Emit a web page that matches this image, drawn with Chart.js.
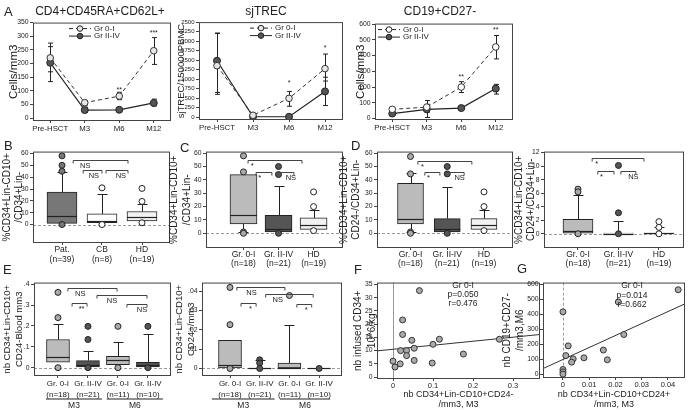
<!DOCTYPE html>
<html>
<head>
<meta charset="utf-8">
<script src="https://cdn.jsdelivr.net/npm/chart.js"></script>
<style>
  body { margin: 0; width: 689px; height: 410px; position: relative; overflow: hidden; background: #fff;
         font-family: "Liberation Sans", Arial, sans-serif; color: #222; }
  canvas { position: absolute; z-index: 1; }
  .t { position: absolute; white-space: nowrap; z-index: 5; color: #222; }
  .c { text-align: center; }
</style>
</head>
<body>
<div class="t" style="left:4px;top:4px;font-size:13px">A</div>
<div class="t c" style="left:30px;top:4px;width:140px;font-size:12px">CD4+CD45RA+CD62L+</div>
<div class="t c" style="left:226px;top:4px;width:80px;font-size:12px">sjTREC</div>
<div class="t c" style="left:390px;top:4px;width:100px;font-size:12px">CD19+CD27-</div>
<div class="t" style="left:4px;top:138px;font-size:13px">B</div>
<div class="t" style="left:180px;top:140px;font-size:13px">C</div>
<div class="t" style="left:351px;top:138px;font-size:13px">D</div>
<div class="t" style="left:3px;top:262px;font-size:13px">E</div>
<div class="t" style="left:354px;top:262px;font-size:13px">F</div>
<div class="t" style="left:517px;top:261px;font-size:13px">G</div>
<div class="t c" style="left:433px;top:281px;width:60px;font-size:8.5px;line-height:9px">Gr 0-I<br>p=0.050<br>r=0.476</div>
<div class="t c" style="left:602px;top:281px;width:60px;font-size:8.5px;line-height:9.5px">Gr 0-I<br>p=0.014<br>r=0.662</div>
<script>
// ---------- A: time course ----------
const timeLabels = ['Pre-HSCT', 'M3', 'M6', 'M12'];

const cd4Ticks = [0, 50, 100, 150, 200, 250, 300, 350];
const cd4Gr0 = [221, 57, 81, 247];
const cd4Gr0Lo = [170, 48, 68, 197];
const cd4Gr0Hi = [275, 65, 95, 295];
const cd4Gr2 = [203, 30, 31, 56];
const cd4Gr2Lo = [134, 22, 27, 45];
const cd4Gr2Hi = [262, 40, 37, 70];
const cd4Stars = ['', '', '**', '***'];
const cd4StarY = [0, 0, 104, 312];

const trecTicks = [0, 250, 500, 750, 1000, 1250, 1500, 1750, 2000, 2250, 2500];
const trecGr0 = [1354, 50, 495, 1276];
const trecGr0Lo = [600, 50, 286, 950];
const trecGr0Hi = [2213, 50, 677, 1660];
const trecGr2 = [1484, 10, 10, 677];
const trecGr2Lo = [650, 10, 10, 305];
const trecGr2Hi = [2200, 10, 10, 1050];
const trecStars = ['', '', '*', '*'];
const trecStarY = [0, 0, 900, 1830];

const cd19Ticks = [0, 100, 200, 300, 400, 500, 600];
const cd19Gr0 = [58, 72, 200, 455];
const cd19Gr0Lo = [45, 40, 165, 379];
const cd19Gr0Hi = [70, 114, 234, 528];
const cd19Gr2 = [31, 58, 66, 190];
const cd19Gr2Lo = [25, 6, 55, 155];
const cd19Gr2Hi = [38, 90, 78, 217];
const cd19Stars = ['', '', '**', '**'];
const cd19StarY = [0, 0, 262, 562];

// ---------- B, C, D: boxplots ----------
const pctTicks = [0, 10, 20, 30, 40, 50, 60];
const bCats = [['Pat.', '(n=39)'], ['CB', '(n=8)'], ['HD', '(n=19)']];
const bLo = [1, 1.5, 3];
const bQ1 = [1, 1.5, 3];
const bMed = [7.5, 3, 6];
const bQ3 = [27.5, 9, 11];
const bHi = [44, 25.5, 17];
const bOut = [[58, 50, 45, 0], [31, 0], [30.5, 19.5, 1.5]];
const bBrackets = [[1.28, 2.65, 54.5, 'NS', 0.13], [1.53, 2.0, 46, 'NS', 0.3], [2.1, 2.65, 46, 'NS', 0.45]];

const grpCats = [['Gr. 0-I', '(n=18)'], ['Gr. II-IV', '(n=21)'], ['HD', '(n=19)']];
const cLo = [1, 1, 3];
const cQ1 = [7, 1, 3];
const cMed = [14, 3, 6];
const cQ3 = [44, 13.5, 11.5];
const cHi = [44, 35.5, 17.5];
const cOut = [[58, 46, 1, 0], [50, 44, 0], [31, 20, 2]];
const cBrackets = [[1.13, 2.67, 55, '*', 0.04], [1.36, 1.81, 46, '*', 0.1], [1.93, 2.44, 46, 'NS', 0.55]];

const dLo = [1, 1, 3];
const dQ1 = [7, 1, 3];
const dMed = [11, 3, 6];
const dQ3 = [37.5, 11, 11];
const dHi = [45, 34.5, 17.5];
const dOut = [[57.5, 44.5, 1, 0], [50, 44.5, 0], [31, 20, 2]];
const dBrackets = [[1.2, 2.67, 54.4, '*', 0.05], [1.39, 1.8, 46, '*', 0.1], [1.94, 2.46, 46, 'NS', 0.5]];

const d2Ticks = [0, 2, 4, 6, 8, 10, 12];
const d2Lo = [0, 0, 0];
const d2Q1 = [0, 0, 0];
const d2Med = [0.45, 0, 0.05];
const d2Q3 = [2.15, 0.1, 0.12];
const d2Hi = [5.75, 1.85, 0.95];
const d2Out = [[6.6, 6.2, 0], [10.1, 3.1, 0], [1.8, 0.95, 0]];
const d2Brackets = [[1.35, 2.63, 11.2, '*', 0.05], [1.49, 1.89, 9.35, '*', 0.1], [2.06, 2.43, 9.35, 'NS', 0.5]];

// ---------- E: blood counts M3 / M6 ----------
const eCats = [['Gr. 0-I', '(n=18)'], ['Gr. II-IV', '(n=21)'], ['Gr. 0-I', '(n=11)'], ['Gr. II-IV', '(n=10)']];
const eTicks = [0, 0.1, 0.2, 0.3, 0.4];
const eTickLabels = ['0', '.1', '.2', '.3', '.4'];
const eLo = [0.026, 0.003, 0.014, 0.003];
const eQ1 = [0.026, 0.003, 0.014, 0.003];
const eMed = [0.053, 0.014, 0.037, 0.014];
const eQ3 = [0.135, 0.034, 0.054, 0.026];
const eHi = [0.21, 0.081, 0.124, 0.162];
const eOut = [[0.361, 0.24, 0], [0.198, 0.135, 0], [0.198, 0], [0.198, 0]];
const eBrackets = [[1.33, 2.97, 0.38, 'NS', 0.15], [1.47, 1.97, 0.31, '**', 0.5], [2.3, 3.97, 0.349, 'NS', 0.2], [3.3, 3.97, 0.307, 'NS', 0.5]];
const eGroups = [[0.6, 2.47, 'M3'], [2.63, 4.5, 'M6']];

const e2Ticks = [0, 0.01, 0.02, 0.03, 0.04];
const e2TickLabels = ['0', '.01', '.02', '.03', '.04'];
const e2Lo = [0, 0, 0, 0];
const e2Q1 = [0, 0, 0, 0];
const e2Med = [0.002, 0, 0, 0];
const e2Q3 = [0.0146, 0, 0.0028, 0];
const e2Hi = [0.0146, 0.0045, 0.0227, 0];
const e2Out = [[0.042, 0.0227, 0], [0.0045, 0.0028, 0], [0.0378], [0]];
const e2Brackets = [[1.23, 2.85, 0.042, 'NS', 0.2], [1.37, 1.88, 0.034, '*', 0.5], [2.2, 3.8, 0.0387, 'NS', 0.15], [3.25, 3.75, 0.0336, '*', 0.5]];
const e2Groups = [[0.39, 2.5, 'M3'], [2.68, 4.37, 'M6']];

// ---------- F, G: correlations ----------
const fTicksX = [0, 0.1, 0.2, 0.3];
const fTickLabelsX = ['0', '0.1', '0.2', '0.3'];
const fTicksY = [0, 5, 10, 15, 20, 25, 30, 35];
const fX = [0.0, 0.005, 0.024, 0.024, 0.019, 0.034, 0.034, 0.018, 0.047, 0.053, 0.053, 0.066, 0.10, 0.098, 0.116, 0.176, 0.266];
const fY = [6.0, 3.8, 21.6, 16.1, 10, 10, 8.1, 5, 13.9, 10.9, 6.3, 32.7, 12.4, 5.3, 14.3, 8.7, 14.3];
const fFitX = [-0.04, 0.3675];
const fFitY = [9.9, 16.1];

const gTicksX = [0, 0.01, 0.02, 0.03, 0.04];
const gTickLabelsX = ['0', '0.01', '0.02', '0.03', '0.04'];
const gTicksY = [0, 100, 200, 300, 400, 500, 600];
const gX = [0.0439, 0.0211, 0, 0.0232, 0.002, 0.0154, 0.0011, 0.008, 0.0039, 0.0033, 0.0169, 0, 0, 0];
const gY = [565, 483, 417, 265, 189, 161, 124, 109, 102, 80, 96, 31, 15, 0];
const gFitX = [-0.0076, 0.0465];
const gFitY = [37, 471];

// ---------- helpers ----------
const FAMILY = '"Liberation Sans", Arial, sans-serif';
Chart.defaults.font.family = FAMILY;
Chart.defaults.color = '#222';

function mkCanvas(frame, left, bottom) {
    const [l, t, r, b] = frame;
    const cv = document.createElement('canvas');
    const top = t - 3, w = r - left + 3, h = bottom - top;
    cv.width = w;
    cv.height = h;
    Object.assign(cv.style, { left: left + 'px', top: top + 'px', width: w + 'px', height: h + 'px' });
    document.body.appendChild(cv);
    return { cv, yW: l - left, xH: bottom - b };
}

const framePlugin = {
    id: 'frame',
    afterDraw(chart) {
        const a = chart.chartArea, c = chart.ctx;
        c.save();
        c.strokeStyle = '#444';
        c.lineWidth = 1;
        c.strokeRect(a.left + 0.5, a.top + 0.5, a.right - a.left - 1, a.bottom - a.top - 1);
        c.restore();
    }
};

function yAxis(o, W) {
    return {
        type: 'linear', min: o.ymin, max: o.ymax,
        afterFit: s => { s.width = W; },
        afterBuildTicks: s => { s.ticks = o.yticks.map(v => ({ value: v })); },
        border: { display: false },
        grid: { drawOnChartArea: false, tickLength: 3, color: '#444' },
        ticks: { font: { size: o.tickSize || 6.8 }, padding: 1.5, autoSkip: false,
                 callback: (v, i) => o.ylabels ? o.ylabels[i] : String(v) },
        title: { display: true, text: o.ytitle, color: '#222',
                 font: { size: o.titleSize || 10, lineHeight: o.titleLH || 1.2 }, padding: 0 }
    };
}

function baseOptions() {
    return {
        responsive: false, animation: false, events: [],
        layout: { padding: { top: 3, right: 3, left: 0, bottom: 0 }, autoPadding: false },
        plugins: { legend: { display: false }, tooltip: { enabled: false } }
    };
}

// ---------- time course panel ----------
function linePanel(o) {
    const { cv, yW, xH } = mkCanvas(o.frame, o.left, o.bottom);
    const groups = [
        { lo: o.g0Lo, hi: o.g0Hi },
        { lo: o.g2Lo, hi: o.g2Hi }
    ];
    const extras = {
        id: 'extras',
        beforeDatasetsDraw(chart) {
            const c = chart.ctx, X = chart.scales.x, Y = chart.scales.y;
            c.save();
            c.strokeStyle = '#222';
            c.lineWidth = 1;
            groups.forEach(g => {
                g.lo.forEach((lo, i) => {
                    const hi = g.hi[i];
                    if (hi - lo <= 0) return;
                    const x = Math.round(X.getPixelForValue(i)) + 0.5;
                    const y1 = Y.getPixelForValue(lo), y2 = Y.getPixelForValue(hi);
                    c.beginPath();
                    c.moveTo(x, y1); c.lineTo(x, y2);
                    c.moveTo(x - 2.5, y1); c.lineTo(x + 2.5, y1);
                    c.moveTo(x - 2.5, y2); c.lineTo(x + 2.5, y2);
                    c.stroke();
                });
            });
            c.restore();
        },
        afterDatasetsDraw(chart) {
            const c = chart.ctx, X = chart.scales.x, Y = chart.scales.y, a = chart.chartArea;
            c.save();
            c.font = '7px ' + FAMILY;
            c.fillStyle = '#222';
            c.textAlign = 'center';
            c.textBaseline = 'middle';
            o.stars.forEach((s, i) => {
                if (s) c.fillText(s, X.getPixelForValue(i), Y.getPixelForValue(o.starY[i]));
            });
            // legend
            chart.data.datasets.forEach((ds, k) => {
                const x0 = a.left + o.legendX, y = a.top + 6 + k * 7.5;
                c.strokeStyle = '#222';
                c.lineWidth = 1;
                c.setLineDash(ds.borderDash || []);
                c.beginPath(); c.moveTo(x0, y); c.lineTo(x0 + 22, y); c.stroke();
                c.setLineDash([]);
                c.beginPath(); c.arc(x0 + 11, y, 2.8, 0, Math.PI * 2);
                c.fillStyle = ds.pointBackgroundColor; c.fill(); c.stroke();
                c.fillStyle = '#222';
                c.textAlign = 'left';
                c.font = '8px ' + FAMILY;
                c.fillText(ds.label, x0 + 25, y);
            });
            c.restore();
        }
    };
    new Chart(cv, {
        type: 'line',
        data: {
            labels: timeLabels,
            datasets: [
                { label: 'Gr 0-I', data: o.g0, borderColor: '#333', borderWidth: 1, borderDash: [4, 3],
                  pointRadius: 3.3, pointBackgroundColor: o.openFill, pointBorderColor: '#333', pointBorderWidth: 1 },
                { label: 'Gr II-IV', data: o.g2, borderColor: '#222', borderWidth: 1.2,
                  pointRadius: 3.5, pointBackgroundColor: '#555', pointBorderColor: '#222', pointBorderWidth: 1 }
            ]
        },
        options: Object.assign(baseOptions(), {
            scales: {
                x: {
                    type: 'category', offset: true,
                    afterFit: s => { s.height = xH; },
                    border: { display: false },
                    grid: { drawOnChartArea: false, offset: false, tickLength: 2, color: '#444' },
                    ticks: { font: { size: 7.8 }, padding: 1, maxRotation: 0, autoSkip: false }
                },
                y: yAxis(o, yW)
            }
        }),
        plugins: [framePlugin, extras]
    });
}

// ---------- box plot panel ----------
function boxPanel(o) {
    const { cv, yW, xH } = mkCanvas(o.frame, o.left, o.bottom);
    const xs = o.cats.map((_, i) => i + 1);
    const pts = [], fills = [];
    o.out.forEach((arr, i) => arr.forEach(v => { pts.push({ x: i + 1, y: v }); fills.push(o.dotColor[i]); }));
    const half = o.boxW / 2, cap = 5;
    const boxPlugin = {
        id: 'box',
        beforeDatasetsDraw(chart) {
            const c = chart.ctx, X = chart.scales.x, Y = chart.scales.y, a = chart.chartArea;
            c.save();
            c.strokeStyle = '#999';
            c.lineWidth = 1;
            c.setLineDash([3, 2]);
            const y0 = Math.round(Y.getPixelForValue(0)) + 0.5;
            c.beginPath(); c.moveTo(a.left, y0); c.lineTo(a.right, y0); c.stroke();
            c.setLineDash([]);
            c.strokeStyle = '#222';
            xs.forEach((xv, i) => {
                const x = Math.round(X.getPixelForValue(xv)) + 0.5;
                const whisk = (from, to) => {
                    const y1 = Y.getPixelForValue(from), y2 = Math.round(Y.getPixelForValue(to)) + 0.5;
                    c.beginPath();
                    c.moveTo(x, y1); c.lineTo(x, y2);
                    c.moveTo(x - cap, y2); c.lineTo(x + cap, y2);
                    c.stroke();
                };
                if (o.hi[i] > o.q3[i]) whisk(o.q3[i], o.hi[i]);
                if (o.lo[i] < o.q1[i]) whisk(o.q1[i], o.lo[i]);
            });
            c.restore();
        },
        afterDatasetDraw(chart, args) {
            if (args.index !== 0) return;
            const c = chart.ctx, X = chart.scales.x, Y = chart.scales.y;
            c.save();
            c.strokeStyle = '#222';
            c.lineWidth = 1.2;
            xs.forEach((xv, i) => {
                const x = X.getPixelForValue(xv);
                const y = Math.round(Y.getPixelForValue(o.med[i])) + 0.5;
                c.beginPath(); c.moveTo(x - half, y); c.lineTo(x + half, y); c.stroke();
            });
            c.restore();
        },
        afterDatasetsDraw(chart) {
            const c = chart.ctx, X = chart.scales.x, Y = chart.scales.y;
            c.save();
            c.strokeStyle = '#444';
            c.fillStyle = '#222';
            c.lineWidth = 1;
            c.font = '7.5px ' + FAMILY;
            c.textAlign = 'center';
            c.textBaseline = 'top';
            o.brackets.forEach(([x1, x2, yv, label, frac]) => {
                const p1 = X.getPixelForValue(x1), p2 = X.getPixelForValue(x2);
                const y = Math.round(Y.getPixelForValue(yv)) + 0.5;
                c.beginPath();
                c.moveTo(p1, y + 3); c.lineTo(p1, y); c.lineTo(p2, y); c.lineTo(p2, y + 3);
                c.stroke();
                c.fillText(label, p1 + (p2 - p1) * frac + (label === 'NS' ? 5 : 2), y + 1.5);
            });
            c.restore();
        },
        afterDraw(chart) {
            if (!o.groups) return;
            const c = chart.ctx, X = chart.scales.x, a = chart.chartArea;
            c.save();
            c.strokeStyle = '#222';
            c.fillStyle = '#222';
            c.lineWidth = 1.2;
            c.font = '8.5px ' + FAMILY;
            c.textAlign = 'center';
            c.textBaseline = 'middle';
            o.groups.forEach(([x1, x2, label]) => {
                const p1 = X.getPixelForValue(x1), p2 = X.getPixelForValue(x2);
                const y = a.bottom + 23;
                c.beginPath(); c.moveTo(p1, y); c.lineTo(p2, y); c.stroke();
                c.fillText(label, (p1 + p2) / 2, y + 7);
            });
            c.restore();
        }
    };
    new Chart(cv, {
        type: 'bar',
        data: {
            datasets: [
                { type: 'bar', data: xs.map((x, i) => ({ x, y: [o.q1[i], o.q3[i]] })),
                  backgroundColor: o.boxColor, borderColor: '#222', borderWidth: 1, borderSkipped: false,
                  barThickness: o.boxW, order: 2 },
                { type: 'scatter', data: pts, pointRadius: 3, pointBackgroundColor: fills,
                  pointBorderColor: '#222', pointBorderWidth: 1, order: 0 }
            ]
        },
        options: Object.assign(baseOptions(), {
            scales: {
                x: {
                    type: 'linear', min: o.xmin, max: o.xmax, offset: false,
                    afterFit: s => { s.height = xH; },
                    afterBuildTicks: s => { s.ticks = xs.map(v => ({ value: v })); },
                    border: { display: false },
                    grid: { drawOnChartArea: false, offset: false, tickLength: 2, color: '#444' },
                    ticks: { font: { size: o.xSize || 8.5, lineHeight: o.xLH || 1.1 }, padding: 0, maxRotation: 0,
                             autoSkip: false, callback: (v, i) => o.cats[i] }
                },
                y: yAxis(o, yW)
            }
        }),
        plugins: [framePlugin, boxPlugin]
    });
}

// ---------- scatter / correlation panel ----------
function scatterPanel(o) {
    const { cv, yW, xH } = mkCanvas(o.frame, o.left, o.bottom);
    const zeroLine = {
        id: 'zero',
        beforeDatasetsDraw(chart) {
            const c = chart.ctx, X = chart.scales.x, a = chart.chartArea;
            const x = Math.round(X.getPixelForValue(0)) + 0.5;
            c.save();
            c.strokeStyle = '#999';
            c.lineWidth = 1;
            if (o.dashedZero) c.setLineDash([3, 2]);
            c.beginPath(); c.moveTo(x, a.top); c.lineTo(x, a.bottom); c.stroke();
            c.restore();
        }
    };
    new Chart(cv, {
        type: 'scatter',
        data: {
            datasets: [
                { type: 'scatter', data: o.xv.map((x, i) => ({ x, y: o.yv[i] })), pointRadius: 3,
                  pointBackgroundColor: '#aaa', pointBorderColor: '#333', pointBorderWidth: 1, order: 0 },
                { type: 'line', data: o.fitX.map((x, i) => ({ x, y: o.fitY[i] })), borderColor: '#333',
                  borderWidth: 1, pointRadius: 0, order: 1 }
            ]
        },
        options: Object.assign(baseOptions(), {
            scales: {
                x: {
                    type: 'linear', min: o.xmin, max: o.xmax,
                    afterFit: s => { s.height = xH; },
                    afterBuildTicks: s => { s.ticks = o.xticks.map(v => ({ value: v })); },
                    border: { display: false },
                    grid: { drawOnChartArea: false, tickLength: 2, color: '#444' },
                    ticks: { font: { size: 7.5 }, padding: 0, maxRotation: 0, autoSkip: false,
                             callback: (v, i) => o.xlabels[i] },
                    title: { display: true, text: o.xtitle, color: '#222',
                             font: { size: 9, lineHeight: 1.15 }, padding: 0 }
                },
                y: yAxis(o, yW)
            }
        }),
        plugins: [framePlugin, zeroLine]
    });
}

// ---------- build ----------
linePanel({ frame: [33, 20, 171, 121], left: 7, bottom: 134, ymin: -10, ymax: 350, yticks: cd4Ticks,
            ytitle: 'Cells/mm3', titleSize: 11.5, legendX: 36, openFill: '#e6e6e6',
            g0: cd4Gr0, g0Lo: cd4Gr0Lo, g0Hi: cd4Gr0Hi, g2: cd4Gr2, g2Lo: cd4Gr2Lo, g2Hi: cd4Gr2Hi,
            stars: cd4Stars, starY: cd4StarY });
linePanel({ frame: [199, 20, 343, 120], left: 176, bottom: 134, ymin: -75, ymax: 2500, yticks: trecTicks,
            ytitle: 'sjTREC/150000PBMC', titleSize: 9.5, tickSize: 6, legendX: 51, openFill: '#e6e6e6',
            g0: trecGr0, g0Lo: trecGr0Lo, g0Hi: trecGr0Hi, g2: trecGr2, g2Lo: trecGr2Lo, g2Hi: trecGr2Hi,
            stars: trecStars, starY: trecStarY });
linePanel({ frame: [375, 21, 513, 120], left: 354, bottom: 134, ymin: -10, ymax: 604, yticks: cd19Ticks,
            ytitle: 'Cells/mm3', titleSize: 11.5, legendX: 3, openFill: '#fff',
            g0: cd19Gr0, g0Lo: cd19Gr0Lo, g0Hi: cd19Gr0Hi, g2: cd19Gr2, g2Lo: cd19Gr2Lo, g2Hi: cd19Gr2Hi,
            stars: cd19Stars, starY: cd19StarY });

boxPanel({ frame: [33, 149, 170, 243], left: 1, bottom: 268, ymin: -15.6, ymax: 61.6, yticks: pctTicks,
           ytitle: ['%CD34+Lin-CD10+', '/CD34+Lin-'], xmin: 0.275, xmax: 3.7, boxW: 30, xLH: 1.15,
           cats: bCats, lo: bLo, q1: bQ1, med: bMed, q3: bQ3, hi: bHi, out: bOut, brackets: bBrackets,
           boxColor: ['#777', '#fff', '#f2f2f2'], dotColor: ['#777', '#fff', '#fff'] });
boxPanel({ frame: [206, 149, 343, 248], left: 168, bottom: 268, ymin: -11, ymax: 61.2, yticks: pctTicks,
           ytitle: ['%CD34+Lin-CD10+', '/CD34+Lin-'], titleLH: 1.28, xmin: -0.07, xmax: 3.84, boxW: 27,
           cats: grpCats, lo: cLo, q1: cQ1, med: cMed, q3: cQ3, hi: cHi, out: cOut, brackets: cBrackets,
           boxColor: ['#bbb', '#555', '#f2f2f2'], dotColor: ['#aaa', '#555', '#fff'] });
boxPanel({ frame: [377, 149, 513, 248], left: 338, bottom: 268, ymin: -11, ymax: 61.2, yticks: pctTicks,
           ytitle: ['%CD34+Lin-CD10+', 'CD24-/CD34+Lin-'], xmin: 0.088, xmax: 3.79, boxW: 26,
           cats: grpCats, lo: dLo, q1: dQ1, med: dMed, q3: dQ3, hi: dHi, out: dOut, brackets: dBrackets,
           boxColor: ['#bbb', '#555', '#f2f2f2'], dotColor: ['#aaa', '#555', '#fff'] });
boxPanel({ frame: [544, 149, 684, 248], left: 513, bottom: 268, ymin: -2.1, ymax: 12.15, yticks: d2Ticks,
           ytitle: ['%CD34+Lin-CD10+', 'CD24+/CD34+Lin-'], xmin: 0.16, xmax: 3.62, boxW: 30,
           cats: grpCats, lo: d2Lo, q1: d2Q1, med: d2Med, q3: d2Q3, hi: d2Hi, out: d2Out, brackets: d2Brackets,
           boxColor: ['#bbb', '#555', '#f2f2f2'], dotColor: ['#aaa', '#555', '#fff'] });

boxPanel({ frame: [34, 280, 171, 376], left: 1, bottom: 410, ymin: -0.04, ymax: 0.408, yticks: eTicks,
           ylabels: eTickLabels, ytitle: ['nb CD34+Lin-CD10+', 'CD24-Blood mm3'], titleSize: 9.5, titleLH: 1.26,
           xmin: 0.2, xmax: 4.77, boxW: 23, xSize: 8, xLH: 1.4,
           cats: eCats, lo: eLo, q1: eQ1, med: eMed, q3: eQ3, hi: eHi, out: eOut, brackets: eBrackets,
           groups: eGroups, boxColor: ['#bbb', '#555', '#bbb', '#555'], dotColor: ['#aaa', '#555', '#aaa', '#555'] });
boxPanel({ frame: [202, 280, 342, 376], left: 173, bottom: 410, ymin: -0.0039, ymax: 0.0445, yticks: e2Ticks,
           ylabels: e2TickLabels, ytitle: ['nb CD34+Lin-CD10+', 'CD24+/mm3'], titleSize: 9.5, titleLH: 1.26,
           xmin: 0.057, xmax: 4.77, boxW: 23, xSize: 8, xLH: 1.4,
           cats: eCats, lo: e2Lo, q1: e2Q1, med: e2Med, q3: e2Q3, hi: e2Hi, out: e2Out, brackets: e2Brackets,
           groups: e2Groups, boxColor: ['#bbb', '#555', '#bbb', '#555'], dotColor: ['#aaa', '#555', '#aaa', '#555'] });

scatterPanel({ frame: [377, 280, 540, 379], left: 351, bottom: 410, ymin: -0.74, ymax: 35.74, yticks: fTicksY,
               ytitle: ['nb infused CD34+', '10^6/kg'], titleSize: 10, titleLH: 1.4,
               xmin: -0.04, xmax: 0.3675, xticks: fTicksX, xlabels: fTickLabelsX,
               xtitle: ['nb CD34+Lin-CD10+CD24-', '/mm3, M3'],
               xv: fX, yv: fY, fitX: fFitX, fitY: fFitY, dashedZero: false });
scatterPanel({ frame: [543, 280, 685, 378], left: 501, bottom: 410, ymin: -26, ymax: 613, yticks: gTicksY,
               ytitle: ['nb CD19+CD27-', '/mm3,M6'], titleSize: 10, titleLH: 1.3,
               xmin: -0.0076, xmax: 0.0465, xticks: gTicksX, xlabels: gTickLabelsX,
               xtitle: ['nb CD34+Lin-CD10+CD24+', '/mm3, M3'],
               xv: gX, yv: gY, fitX: gFitX, fitY: gFitY, dashedZero: true });
</script>
</body>
</html>
